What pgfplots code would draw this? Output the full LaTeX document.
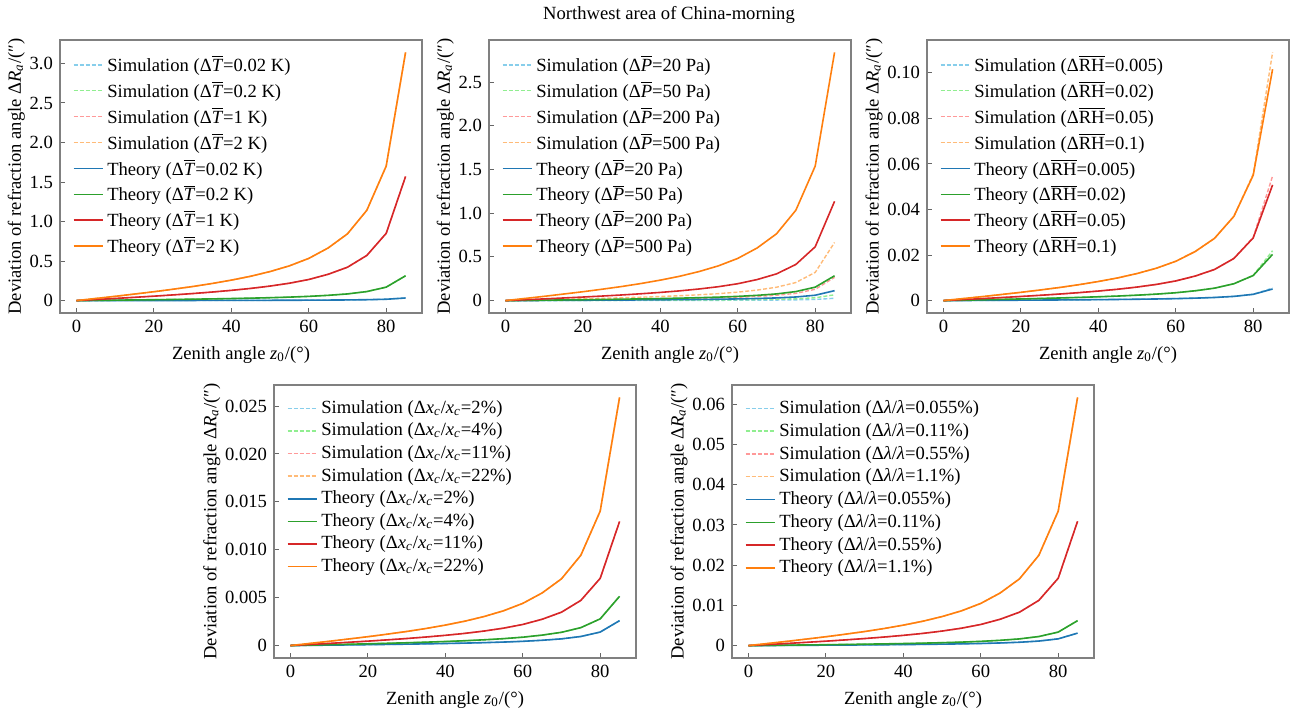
\documentclass[border=0pt]{standalone}
\usepackage{pgfplots}
\pgfplotsset{compat=1.18}
\usepackage{pgfplotstable}
\usepackage{fontspec}
\setmainfont{Liberation Serif}
\newcommand{\fs}{\fontsize{9.3}{11}\selectfont}
\newcommand{\oT}{$\overline{\mbox{\textit{T}}}$}
\newcommand{\oP}{$\overline{\mbox{\textit{P}}}$}
\newcommand{\oRH}{$\overline{\mbox{RH}}$}
\newcommand{\xc}{Δ\textit{x}\textsubscript{\textit{c}}/\textit{x}\textsubscript{\textit{c}}}
\newcommand{\lam}{Δ\textit{λ}/\textit{λ}}
\definecolor{c1}{HTML}{1F77B4}
\definecolor{c2}{HTML}{2CA02C}
\definecolor{c3}{HTML}{D62728}
\definecolor{c4}{HTML}{FF7F0E}
\definecolor{l1}{HTML}{87CEEB}
\definecolor{l2}{HTML}{90EE90}
\definecolor{l3}{HTML}{FF9999}
\definecolor{l4}{HTML}{FFBB78}

\pgfplotstableread{
z t1 t2 t3 t4
0 0 0 0 0
5 0.00027 0.0027 0.0135 0.0270
10 0.00054 0.0054 0.0270 0.0540
15 0.00083 0.0083 0.0414 0.0829
20 0.00112 0.0112 0.0560 0.1121
25 0.00144 0.0144 0.0721 0.1441
30 0.00178 0.0178 0.0890 0.1780
35 0.00216 0.0216 0.1080 0.2160
40 0.00259 0.0259 0.1295 0.2591
45 0.00308 0.0308 0.1540 0.3080
50 0.00367 0.0367 0.1837 0.3674
55 0.00440 0.0440 0.2198 0.4396
60 0.00534 0.0534 0.2669 0.5338
65 0.00666 0.0666 0.3328 0.6657
70 0.00845 0.0845 0.4223 0.8447
75 0.01143 0.1143 0.5715 1.1430
80 0.01702 0.1702 0.8509 1.7019
85 0.0330 0.3140 1.5700 3.1400
}\tabA

\pgfplotstableread{
z t1 t2 t3 t4 s1 s2 s3 s4
0 0 0 0 0 0 0 0 0
5 0.000977 0.00244 0.00977 0.0244 0.000195 0.000488 0.00195 0.00488
10 0.00195 0.00488 0.01954 0.0488 0.000391 0.000977 0.00391 0.00977
15 0.00300 0.00750 0.0300 0.0750 0.0006 0.0015 0.0060 0.0150
20 0.00406 0.01014 0.0406 0.1014 0.000811 0.00203 0.00811 0.0203
25 0.00521 0.01304 0.0521 0.1304 0.001043 0.00261 0.01043 0.0261
30 0.00644 0.01610 0.0644 0.1610 0.001288 0.00322 0.01288 0.0322
35 0.00782 0.01954 0.0782 0.1954 0.001563 0.00391 0.01563 0.0391
40 0.00937 0.02343 0.0937 0.2343 0.001874 0.00469 0.01874 0.0469
45 0.01114 0.02786 0.1114 0.2786 0.002229 0.00557 0.02229 0.0557
50 0.01329 0.03323 0.1329 0.3323 0.002658 0.00665 0.02658 0.0665
55 0.01590 0.03976 0.1590 0.3976 0.00318 0.00795 0.0318 0.0795
60 0.01931 0.04828 0.1931 0.4828 0.003862 0.00966 0.03862 0.0966
65 0.02408 0.06021 0.2408 0.6021 0.004817 0.01204 0.04817 0.1204
70 0.03056 0.07640 0.3056 0.7640 0.006112 0.01528 0.06112 0.1528
75 0.04135 0.1034 0.4135 1.0338 0.00827 0.02068 0.0827 0.2068
80 0.06157 0.1539 0.6157 1.5393 0.01292 0.0323 0.1292 0.323
85 0.1136 0.284 1.136 2.84 0.0266 0.0665 0.266 0.665
}\tabB

\pgfplotstableread{
z t1 t2 t3 t4 s1 s2 s3 s4
0 0 0 0 0 0 0 0 0
5 0.0000437 0.000175 0.000437 0.000874 0.0000437 0.000175 0.000437 0.000874
10 0.0000874 0.000350 0.000874 0.001748 0.0000874 0.000350 0.000874 0.001748
15 0.000134 0.000536 0.001341 0.002682 0.000134 0.000536 0.001341 0.002682
20 0.000181 0.000725 0.001814 0.003627 0.000181 0.000725 0.001814 0.003627
25 0.000233 0.000933 0.002332 0.004663 0.000233 0.000933 0.002332 0.004663
30 0.000288 0.001152 0.002880 0.005761 0.000288 0.001152 0.002880 0.005761
35 0.000350 0.001398 0.003495 0.006990 0.000350 0.001398 0.003495 0.006990
40 0.000419 0.001676 0.004191 0.008382 0.000419 0.001676 0.004191 0.008382
45 0.000498 0.001993 0.004983 0.009967 0.000498 0.001993 0.004983 0.009967
50 0.000594 0.002377 0.005944 0.011887 0.000594 0.002377 0.005944 0.011887
55 0.000711 0.002845 0.007112 0.014224 0.000711 0.002845 0.007112 0.014224
60 0.000864 0.003454 0.008636 0.017272 0.000864 0.003454 0.008636 0.017272
65 0.001077 0.004308 0.010770 0.021539 0.001077 0.004308 0.010770 0.021539
70 0.001367 0.005466 0.013665 0.027330 0.001367 0.005466 0.013665 0.027330
75 0.001849 0.007396 0.018491 0.036982 0.001849 0.007396 0.018491 0.036982
80 0.002753 0.011013 0.027534 0.055067 0.00277 0.01108 0.02775 0.0556
85 0.00508 0.0203 0.0508 0.1016 0.0055 0.0219 0.0547 0.109
}\tabC

\pgfplotstableread{
z t1 t2 t3 t4
0 0 0 0 0
5 0.0000224 0.0000442 0.000111 0.000223
10 0.0000447 0.0000884 0.000223 0.000445
15 0.0000686 0.000136 0.000342 0.000684
20 0.0000928 0.000183 0.000462 0.000925
25 0.000119 0.000236 0.000594 0.001189
30 0.000147 0.000291 0.000734 0.001469
35 0.000179 0.000354 0.000891 0.001782
40 0.000215 0.000424 0.001068 0.002137
45 0.000255 0.000504 0.001270 0.002541
50 0.000304 0.000601 0.001515 0.003030
55 0.000364 0.000720 0.001813 0.003626
60 0.000442 0.000874 0.002202 0.004403
65 0.000551 0.001090 0.002745 0.005491
70 0.000699 0.001383 0.003484 0.006967
75 0.000946 0.001871 0.004714 0.009428
80 0.001409 0.002786 0.007019 0.014038
85 0.0026 0.00514 0.01295 0.0259
}\tabD

\pgfplotstableread{
z t1 t2 t3 t4
0 0 0 0 0
5 0.0000267 0.0000533 0.000266 0.000531
10 0.0000533 0.000107 0.000531 0.001061
15 0.0000818 0.000164 0.000816 0.001629
20 0.000111 0.000221 0.001103 0.002203
25 0.000142 0.000285 0.001418 0.002832
30 0.000176 0.000352 0.001752 0.003498
35 0.000213 0.000427 0.002126 0.004245
40 0.000256 0.000512 0.002549 0.005090
45 0.000304 0.000608 0.003031 0.006053
50 0.000363 0.000725 0.003615 0.007219
55 0.000434 0.000868 0.004326 0.008638
60 0.000527 0.001054 0.005253 0.010489
65 0.000657 0.001314 0.006551 0.013080
70 0.000834 0.001668 0.008312 0.016597
75 0.001128 0.002257 0.011248 0.022459
80 0.001680 0.003360 0.016748 0.033441
85 0.0031 0.0062 0.0309 0.0617
}\tabE

\pgfplotsset{
  panel/.style={
    scale only axis, width=181pt, height=136.5pt,
    xmin=-4.25, xmax=89.25,
    xtick={0,20,40,60,80}, xticklabels={0,20,40,60,80},
    scaled y ticks=false, scaled x ticks=false,
    tick align=inside, tick pos=left, major tick length=2.5pt,
    axis line style={draw=black!50, line width=0.6pt},
    tick style={draw=black!60, line width=0.5pt},
    ticklabel style={font=\fs},
    label style={font=\fs},
    ylabel shift=-4.5pt,
    xlabel={Zenith angle \textit{z}\textsubscript{0}/(°)},
    ylabel={Deviation of refraction angle Δ\textit{R}\textsubscript{\textit{a}}/(″)},
    legend style={draw=none, fill=none, at={(0.034,0.96)}, anchor=north west,
      font=\fs, row sep=-0.65pt, inner sep=0pt},
    legend cell align=left,
    legend image code/.code={\draw[##1] (0pt,0pt) -- (14.5pt,0pt);},
  },
  th1/.style={color=c1, line width=0.8pt},
  th2/.style={color=c2, line width=0.8pt},
  th3/.style={color=c3, line width=0.8pt},
  th4/.style={color=c4, line width=0.8pt},
  sm1/.style={color=l1, line width=0.7pt, dash pattern=on 2pt off 1pt},
  sm2/.style={color=l2, line width=0.7pt, dash pattern=on 2pt off 1pt},
  sm3/.style={color=l3, line width=0.7pt, dash pattern=on 2pt off 1pt},
  sm4/.style={color=l4, line width=0.7pt, dash pattern=on 2pt off 1pt},
}

% #1 table, #2 sim column prefix, #3-#6 parameter texts
\newcommand{\allplots}[6]{%
  \addplot[sm1] table[x=z,y=#21] {#1}; \addlegendentry{Simulation (#3)}
  \addplot[sm2] table[x=z,y=#22] {#1}; \addlegendentry{Simulation (#4)}
  \addplot[sm3] table[x=z,y=#23] {#1}; \addlegendentry{Simulation (#5)}
  \addplot[sm4] table[x=z,y=#24] {#1}; \addlegendentry{Simulation (#6)}
  \addplot[th1] table[x=z,y=t1] {#1}; \addlegendentry{Theory (#3)}
  \addplot[th2] table[x=z,y=t2] {#1}; \addlegendentry{Theory (#4)}
  \addplot[th3] table[x=z,y=t3] {#1}; \addlegendentry{Theory (#5)}
  \addplot[th4] table[x=z,y=t4] {#1}; \addlegendentry{Theory (#6)}
}

\begin{document}
\begin{tikzpicture}
\begin{axis}[panel, at={(30pt,198pt)}, anchor=south west,
  ymin=-0.157, ymax=3.297,
  ytick={0,0.5,1,1.5,2,2.5,3}, yticklabels={0,0.5,1.0,1.5,2.0,2.5,3.0}]
\allplots{\tabA}{t}{Δ\oT=0.02 K}{Δ\oT=0.2 K}{Δ\oT=1 K}{Δ\oT=2 K}
\end{axis}
\begin{axis}[panel, at={(244.5pt,198pt)}, anchor=south west,
  ymin=-0.142, ymax=2.982,
  ytick={0,0.5,1,1.5,2,2.5}, yticklabels={0,0.5,1.0,1.5,2.0,2.5}]
\allplots{\tabB}{s}{Δ\oP=20 Pa}{Δ\oP=50 Pa}{Δ\oP=200 Pa}{Δ\oP=500 Pa}
\end{axis}
\begin{axis}[panel, at={(463.5pt,198pt)}, anchor=south west,
  ymin=-0.00545, ymax=0.11445,
  ytick={0,0.02,0.04,0.06,0.08,0.1}, yticklabels={0,0.02,0.04,0.06,0.08,0.10}]
\allplots{\tabC}{s}{Δ\oRH=0.005}{Δ\oRH=0.02}{Δ\oRH=0.05}{Δ\oRH=0.1}
\end{axis}
\begin{axis}[panel, at={(137pt,25.5pt)}, anchor=south west,
  ymin=-0.0013, ymax=0.0272,
  ytick={0,0.005,0.01,0.015,0.02,0.025}, yticklabels={0,0.005,0.010,0.015,0.020,0.025}]
\allplots{\tabD}{t}{\xc=2\%}{\xc=4\%}{\xc=11\%}{\xc=22\%}
\end{axis}
\begin{axis}[panel, at={(366pt,25.5pt)}, anchor=south west,
  ymin=-0.003085, ymax=0.0648,
  ytick={0,0.01,0.02,0.03,0.04,0.05,0.06}, yticklabels={0,0.01,0.02,0.03,0.04,0.05,0.06}]
\allplots{\tabE}{t}{\lam=0.055\%}{\lam=0.11\%}{\lam=0.55\%}{\lam=1.1\%}
\end{axis}
\node[font=\fs] at (334.5pt,347pt) {Northwest area of China-morning};
\pgfresetboundingbox
\useasboundingbox (0,0) rectangle (646.5pt,354.5pt);
\end{tikzpicture}
\end{document}
